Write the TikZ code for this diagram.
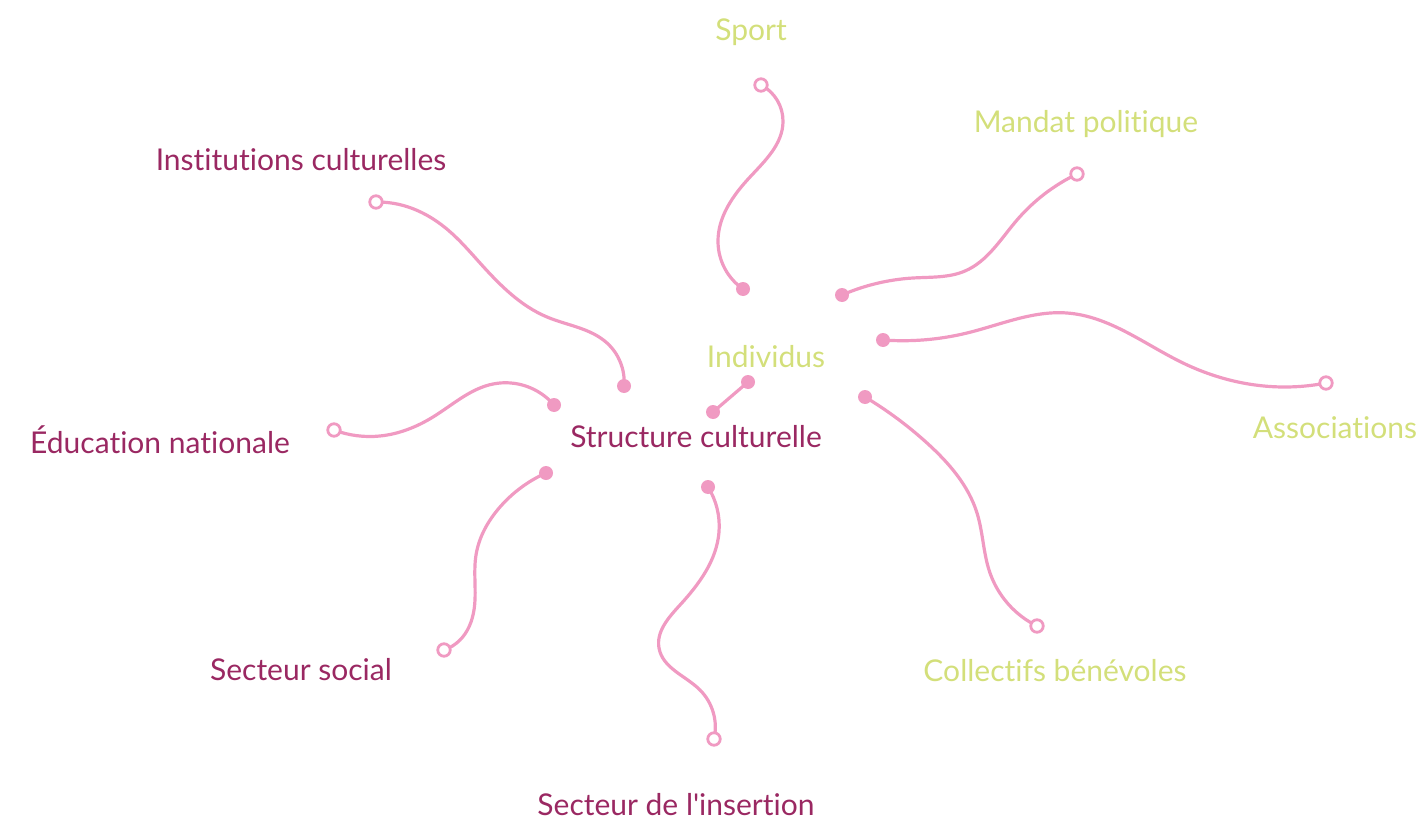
\documentclass[tikz,border=0pt]{standalone}
\usepackage{fontspec}
\usetikzlibrary{hobby}
\setmainfont{Lato}[Ligatures={TeXOff,CommonOff}]
\definecolor{lnk}{HTML}{F09AC2}
\definecolor{mag}{HTML}{9A2862}
\definecolor{grn}{HTML}{D3DF7A}
\tikzset{
  conn/.style={draw=lnk,line width=3.2pt,line cap=round,use Hobby shortcut},
  dotf/.style={circle,fill=lnk,inner sep=0pt,minimum size=14pt},
  doto/.style={circle,draw=lnk,fill=white,line width=2.8pt,inner sep=0pt,minimum size=12.5pt},
  lblm/.style={text=mag,font=\fontsize{30}{34}\selectfont,inner sep=0pt},
  lblg/.style={text=grn,font=\fontsize{30}{34}\selectfont,inner sep=0pt}
}
\begin{document}
\begin{tikzpicture}[x=1pt,y=1pt]
\useasboundingbox (0,0) rectangle (1418,-821);
% labels
\node[lblg] (lsport) at (751,-32) {Sport};
\node[lblg] (lmandat) at (1086,-124) {Mandat politique};
\node[lblm] (linst) at (301,-160) {Institutions culturelles};
\node[lblg] (lind) at (766,-357) {Individus};
\node[lblg] (lassoc) at (1335,-428) {Associations};
\node[lblm] (ledu) at (160,-440) {Éducation nationale};
\node[lblm] (lstruct) at (696,-437) {Structure culturelle};
\node[lblm] (lsoc) at (301,-670) {Secteur social};
\node[lblg] (lcoll) at (1055,-671) {Collectifs bénévoles};
\node[lblm] (lins) at (676,-805) {Secteur de l'insertion};
% endpoints
\coordinate (s1) at (743,-289);
\coordinate (e1) at (761,-85);
\coordinate (s2) at (842,-295);
\coordinate (e2) at (1077,-174);
\coordinate (s3) at (624,-386);
\coordinate (e3) at (376,-202);
\coordinate (s4) at (748,-382);
\coordinate (e4) at (713,-412);
\coordinate (s5) at (883,-340);
\coordinate (e5) at (1326,-383);
\coordinate (s6) at (554,-405);
\coordinate (e6) at (334,-430);
\coordinate (s7) at (546,-473);
\coordinate (e7) at (444,-650);
\coordinate (s8) at (708,-487);
\coordinate (e8) at (714,-739);
\coordinate (s9) at (865,-397);
\coordinate (e9) at (1037,-626);
% connectors
\draw[conn] (s1) .. (718,-242) .. (750,-177) .. (783,-122) .. (e1);
\draw[conn] (s2) .. (913,-278) .. (965,-271) .. (1017,-220) .. (e2);
\draw[conn] (s3) .. (607,-343) .. (547,-317) .. (480,-263) .. (448,-230) .. (405,-206) .. (e3);
\draw (s4) edge[draw=lnk,line width=3.2pt] (e4);
\draw[conn] (s5) .. (967,-333) .. (1067,-313) .. (1183,-363) .. (1283,-387) .. (e5);
\draw[conn] (s6) .. (493,-384) .. (433,-417) .. (380,-436) .. (e6);
\draw[conn] (s7) .. (500,-507) .. (476,-555) .. (474,-610) .. (460,-640) .. (e7);
\draw[conn] (s8) .. (719,-532) .. (680,-605) .. (659,-648) .. (700,-690) .. (e8);
\draw[conn] (s9) .. (927,-443) .. (977,-513) .. (990,-573) .. (e9);
% markers
\foreach \p in {s1,s2,s3,s4,e4,s5,s6,s7,s8,s9} \node[dotf] at (\p) {};
\foreach \p in {e1,e2,e3,e5,e6,e7,e8,e9} \node[doto] at (\p) {};
\end{tikzpicture}
\end{document}
